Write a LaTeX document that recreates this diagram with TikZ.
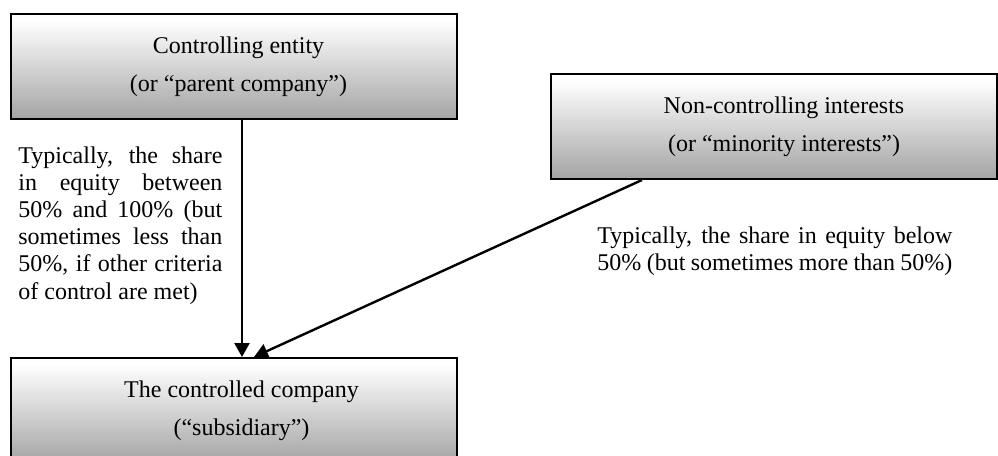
\documentclass[tikz,border=0pt]{standalone}
\usepackage{fontspec}
\setmainfont{Liberation Serif}
\usetikzlibrary{arrows.meta,calc}
\pgfdeclareverticalshading{boxshade}{100bp}{color(0bp)=(black!55); color(72bp)=(white); color(90bp)=(white); color(100bp)=(black!10)}
\begin{document}
\begin{tikzpicture}[x=0.5pt,y=-0.5pt,
  entity/.style={draw=black, line width=1pt, shading=boxshade, minimum width=223pt, minimum height=52.5pt, inner sep=0pt, align=center, font=\fontsize{12pt}{19pt}\selectfont},
  note/.style={inner sep=0pt, anchor=north west, align=left, font=\fontsize{12pt}{13.6pt}\selectfont},
  link/.style={line width=1.2pt, -{Triangle[length=7pt,width=7.5pt]}}]
\useasboundingbox (0,0) rectangle (998,456);
\clip (0,0) rectangle (998,456);
\node[entity] (A) at (233.5,66.5) {\hspace*{5pt}Controlling entity\\\hspace*{5pt}(or “parent company”)};
\node[entity] (B) at (774,126.5) {\hspace*{10pt}Non-controlling interests\\\hspace*{10pt}(or “minority interests”)};
\node[entity] (C) at (233.5,410.5) {\hspace*{8pt}The controlled company\\\hspace*{8pt}(“subsidiary”)};
\node[note] (L) at (18,146) {%
\makebox[102pt][s]{Typically, the share}\\
\makebox[102pt][s]{in equity between}\\
\makebox[102pt][s]{50\% and 100\% (but}\\
\makebox[102pt][s]{sometimes less than}\\
\makebox[102pt][s]{50\%, if other criteria}\\
of control are met)};
\node[note] (R) at (597,226) {%
\makebox[177.5pt][s]{Typically, the share in equity below}\\
\makebox[177.5pt][s]{50\% (but sometimes more than 50\%)}};
\coordinate (vx) at (242,0);
\coordinate (dx) at (642,0);
\coordinate (tx) at (254,0);
\draw[link] (A.south -| vx) -- (C.north -| vx);
\draw[link] (B.south -| dx) -- (C.north -| tx);
\end{tikzpicture}
\end{document}
